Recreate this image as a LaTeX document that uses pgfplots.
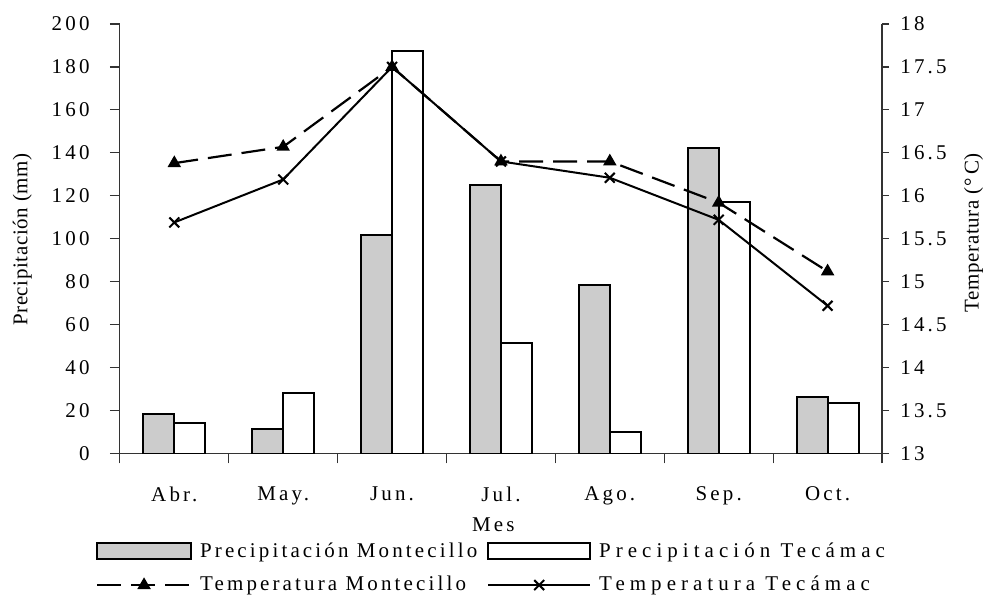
\documentclass[border=0pt]{standalone}
\usepackage{fontspec}
\setmainfont{Liberation Serif}[LetterSpace=15]
\newfontfamily\labfont{Liberation Serif}[LetterSpace=3]
\newfontfamily\widefont{Liberation Serif}[LetterSpace=24]
\usepackage{pgfplots}
\pgfplotsset{compat=1.18}
\pgfplotsset{
  base/.style={
    scale only axis, width=381.5pt, height=215pt,
    xmin=-0.5, xmax=6.5,
    /pgf/number format/assume math mode=true,
    tick align=outside,
    axis line style={line width=0.6pt, black!80},
    tick style={line width=0.6pt, black!80},
    ticklabel style={font=\fontsize{10.5}{12}\selectfont},
  },
  barlegA/.style={legend image code/.code={\draw[fill=black!20, draw=black, line width=1pt] (0pt,-4pt) rectangle (47pt,4pt);}},
  barlegB/.style={legend image code/.code={\draw[fill=white, draw=black, line width=1pt] (0pt,-4pt) rectangle (51pt,4pt);}},
  lineleg/.style={legend image code/.code={\draw[mark repeat=2,mark phase=2,##1] plot coordinates {(0pt,0pt) (23.5pt,0pt) (47pt,0pt)};}},
  linelegB/.style={legend image code/.code={\draw[mark repeat=2,mark phase=2,##1] plot coordinates {(0pt,0pt) (25.5pt,0pt) (51pt,0pt)};}},
}
\begin{document}
\fontsize{10.5}{12}\selectfont
\begin{tikzpicture}
\begin{axis}[base,
  axis x line*=bottom, axis y line*=left,
  ymin=0, ymax=200, ytick={0,20,...,200},
  xtick={-0.5,0.5,...,6.5}, x tick label as interval,
  xticklabels={Abr.,May.,Jun.,Jul.,Ago.,Sep.,Oct.},
  major tick length=5pt,
  ylabel={\labfont Precipitación (mm)},
  ylabel style={at={(axis description cs:-0.128,0.498)}, anchor=center},
  xlabel={Mes},
  xlabel style={at={(axis description cs:0.49,-0.166)}, anchor=center, font=\fontsize{10.5}{12}\selectfont},
  yticklabel style={xshift=-6.5pt},
  xticklabel style={yshift=-8pt},
]
\addplot[ybar, bar width=15.5pt, bar shift=-7.75pt, fill=black!20, draw=black, line width=1pt] coordinates {(0,18.5) (1,11.5) (2,101.9) (3,125) (4,78.3) (5,142.2) (6,26.4)};
\addplot[ybar, bar width=15.5pt, bar shift=7.75pt, fill=white, draw=black, line width=1pt] coordinates {(0,14) (1,28.2) (2,187.2) (3,51.5) (4,9.9) (5,117.3) (6,23.3)};
\end{axis}
\begin{axis}[base,
  axis y line*=right, axis x line=none,
  ymin=13, ymax=18, ytick={13,13.5,...,18},
  major tick length=3.5pt,
  ylabel={\labfont Temperatura (°\,C)},
  ylabel style={at={(axis description cs:1.12,0.514)}, anchor=center},
  yticklabel style={xshift=2pt},
  legend columns=2,
  legend cell align=left,
  legend style={at={(0.4915,-0.197)}, anchor=north, draw=none, fill=none, inner sep=0pt,
    font=\fontsize{10.5}{12}\selectfont, row sep=4pt,
    nodes={inner xsep=4pt},
    /tikz/every even column/.append style={column sep=1pt}},
]
\coordinate (O) at (rel axis cs:0,0);
\addlegendimage{barlegA}
\addlegendentry{Precipitación Montecillo}
\addlegendimage{barlegB}
\addlegendentry{\widefont Precipitación Tecámac}
\addplot[black, line width=1.1pt, dash pattern=on 12pt off 5pt, mark=triangle*, mark size=2.8pt, mark options={solid}, lineleg] coordinates {(0,16.38) (1,16.57) (2,17.5) (3,16.4) (4,16.4) (5,15.92) (6,15.12)};
\addlegendentry{Temperatura Montecillo}
\addplot[black, line width=1pt, mark=x, mark size=3.5pt, mark options={solid, line width=1pt}, linelegB] coordinates {(0,15.69) (1,16.19) (2,17.5) (3,16.4) (4,16.21) (5,15.72) (6,14.72)};
\addlegendentry{\widefont Temperatura Tecámac}
\end{axis}
\path (O) ++(-60pt,-71.5pt) rectangle ++(495pt,298.5pt);
\end{tikzpicture}
\end{document}
